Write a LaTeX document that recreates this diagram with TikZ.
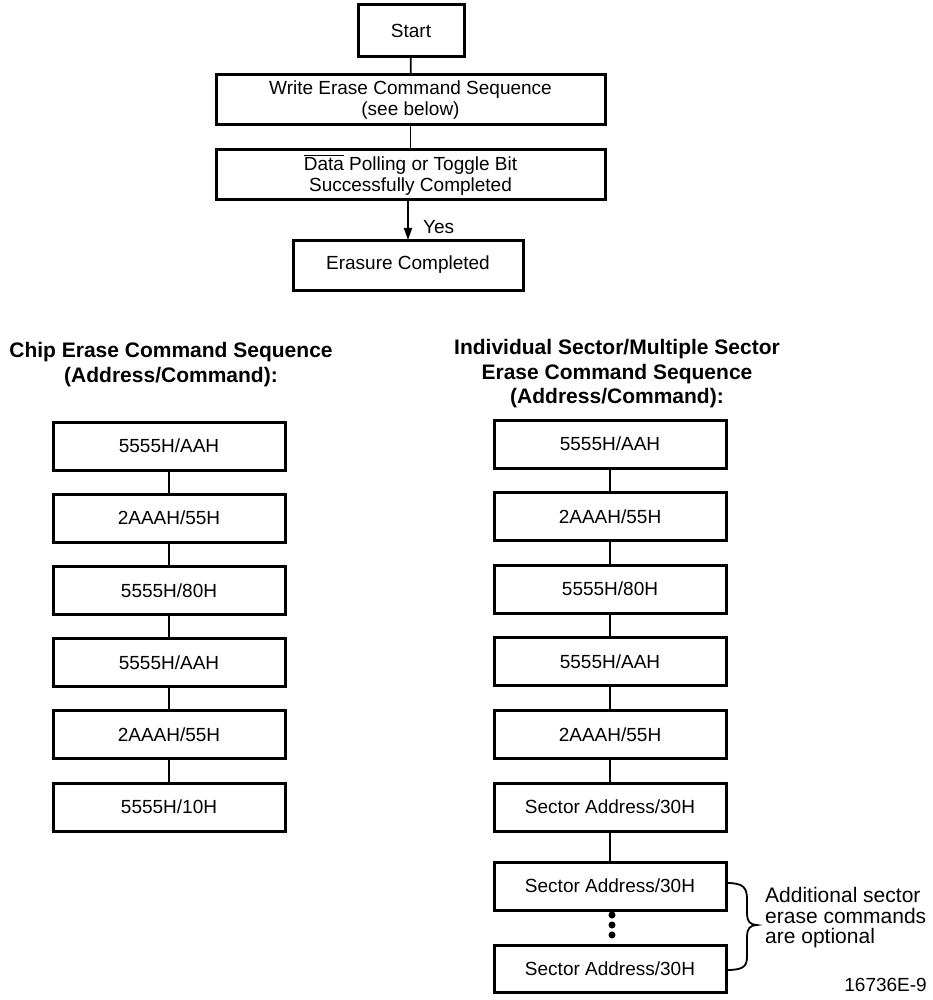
\documentclass[tikz,border=0pt]{standalone}
\usepackage{fontspec}
\setmainfont{Liberation Sans}
\usetikzlibrary{arrows.meta}
\begin{document}
\begin{tikzpicture}[x=1pt,y=-1pt,
  box/.style={draw, line width=3pt, inner sep=0pt, outer sep=0pt, align=center,
    font=\fontsize{19}{21}\selectfont},
  seqbox/.style={box, minimum width=232pt, minimum height=48pt},
  link/.style={draw, line width=1.8pt},
  title/.style={align=center, font=\fontsize{21}{24.5}\selectfont\bfseries, inner sep=0pt},
  note/.style={align=left, font=\fontsize{21}{20.5}\selectfont, inner sep=0pt},
  dot/.style={circle, fill, inner sep=0pt, minimum size=7pt}]
\useasboundingbox (0,0) rectangle (932,1000);

% main flow
\node[box, minimum width=106pt, minimum height=52pt] (start) at (411,31) {Start};
\node[box, minimum width=389pt, minimum height=50pt] (write) at (410.5,100)
  {Write Erase Command Sequence\\(see below)};
\node[box, minimum width=389pt, minimum height=50pt] (poll) at (410.5,175)
  {$\overline{\mbox{Data}}$ Polling or Toggle Bit\\Successfully Completed};
\node[box, minimum width=230pt, minimum height=50pt] (done) at (408,265) {Erasure Completed};
\draw[link] (start) -- (write);
\draw[link] (write) -- (poll);
\draw[link, -{Triangle[length=12pt,width=8pt]}] (poll.south -| done) -- (done.north);
\node[anchor=west, inner sep=0pt, font=\fontsize{19}{21}\selectfont] (yes) at (423,227) {Yes};

% chip erase sequence
\node[title] (ctitle) at (171,364.5) {Chip Erase Command Sequence\\(Address/Command):};
\foreach \i/\t [count=\k] in {0/5555H\slash AAH, 1/2AAAH\slash 55H, 2/5555H\slash 80H,
    3/5555H\slash AAH, 4/2AAAH\slash 55H, 5/5555H\slash 10H}
  \node[seqbox] (c\k) at (169,446+72.2*\i) {\t};
\foreach \a/\b in {1/2,2/3,3/4,4/5,5/6}
  \draw[link] (c\a) -- (c\b);

% sector erase sequence
\node[title] (stitle) at (617,374)
  {Individual Sector/Multiple Sector\\Erase Command Sequence\\(Address/Command):};
\foreach \i/\t [count=\k] in {0/5555H\slash AAH, 1/2AAAH\slash 55H, 2/5555H\slash 80H,
    3/5555H\slash AAH, 4/2AAAH\slash 55H, 5/Sector Address\slash 30H}
  \node[seqbox] (s\k) at (610,444+72.6*\i) {\t};
\node[seqbox] (s7) at (610,886) {Sector Address/30H};
\node[seqbox, minimum height=47pt] (s8) at (610,968.5) {Sector Address/30H};
\foreach \a/\b in {1/2,2/3,3/4,4/5,5/6,6/7}
  \draw[link] (s\a) -- (s\b);

% optional repeats
\node[dot] (d1) at (612,915) {};
\node[dot] (d2) at (612,925) {};
\node[dot] (d3) at (612,935) {};

% brace over the optional commands
\coordinate (bt) at (727,883);
\coordinate (bb) at (727,970);
\coordinate (bm) at (757,925);
\draw[line width=1.8pt]
  (bt) .. controls (744,883) and (747,888) .. (747,900) -- (747,914)
  .. controls (747,921) and (750,925) .. (bm)
  .. controls (750,925) and (747,929) .. (747,936) -- (747,956)
  .. controls (747,966) and (744,970) .. (bb);
\node[note, anchor=west] (opt) at (765,918)
  {Additional sector\\erase commands\\are optional};

\node[anchor=east, inner sep=0pt, font=\fontsize{19}{21}\selectfont] (fig) at (927,985) {16736E-9};
\end{tikzpicture}
\end{document}
